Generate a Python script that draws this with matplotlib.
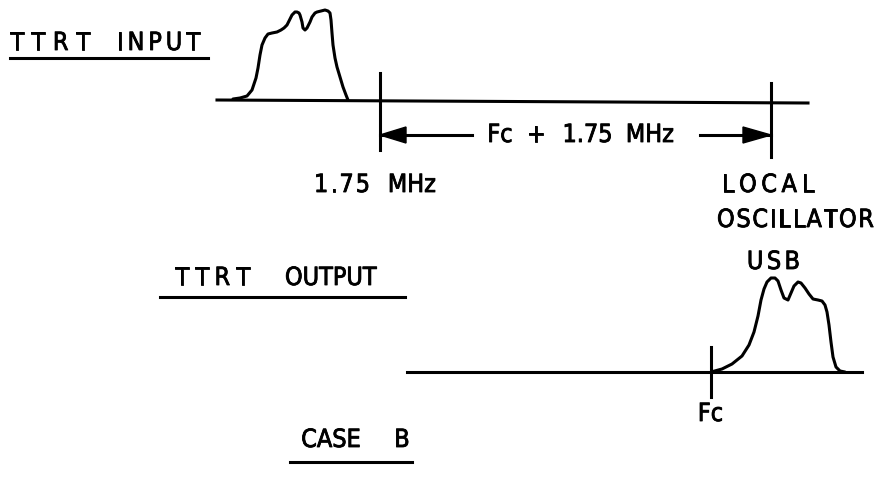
import matplotlib
matplotlib.use("Agg")
import matplotlib.pyplot as plt
import matplotlib.patheffects as pe
from matplotlib.patches import Polygon
from matplotlib.font_manager import FontProperties, fontManager
from matplotlib.textpath import TextToPath

# spectrum outlines, in drawing units (x = frequency, y = down the page)
input_x = [233, 240, 247, 252, 256, 258, 260, 262, 265, 268, 272, 277, 281, 284, 287,
           290, 292, 295, 297, 299, 300, 302, 303, 305, 307, 310, 312, 315, 317, 321, 325,
           328, 330, 331, 332, 333, 335, 337, 340, 343, 346, 348]
input_y = [99, 98, 96, 90, 78, 68, 55, 45, 38, 34, 33, 32, 30, 28, 25,
           19, 15, 12, 12, 13, 15, 22, 28, 30, 28, 22, 17, 13, 12, 11, 10,
           11, 13, 20, 33, 45, 58, 67, 77, 87, 95, 100]

output_x = [711, 722, 732, 742, 749, 754, 758, 761, 764, 767, 771, 775, 778, 781,
            784, 788, 791, 794, 798, 801, 805, 809, 813, 818, 822, 825, 827, 829,
            831, 833, 836, 840, 845]
output_y = [372, 369, 364, 356, 345, 332, 316, 300, 289, 282, 278, 278, 281, 290,
            298, 300, 293, 286, 282, 283, 288, 294, 299, 300, 301, 305, 312, 325,
            342, 357, 367, 371, 372]

# horizontal axes (x0, y0, x1, y1)
baselines = [(217, 100, 808, 103), (407, 372, 862, 372)]
# marker lines (x, top, bottom)
marks = [(380, 73, 150), (771, 83, 157), (711, 347, 397)]

# letter-spaced words: text, left, right, vertical centre
words = [
    ("TTRT", 10, 90, 43), ("INPUT", 117, 200, 43),
    ("Fc", 488, 512, 135), ("+", 526, 546, 135), ("1.75", 562, 613, 135),
    ("1.75", 314, 370, 185),
    ("LOCAL", 722, 814, 185), ("OSCILLATOR", 717, 874, 220),
    ("USB", 747, 800, 262),
    ("TTRT", 175, 250, 278), ("OUTPUT", 284, 378, 278),
    ("Fc", 699, 722, 414),
    ("CASE", 300, 362, 440), ("B", 394, 410, 440),
]
# words kept at natural spacing: text, centre x, centre y
plain_words = [("MHz", 650, 135), ("MHz", 412, 185)]

# underlines (x0, x1, y)
underlines = [(10, 208, 58), (160, 405, 297), (290, 412, 462)]

fig = plt.figure(figsize=(8.76, 4.93), dpi=100)
ax = fig.add_axes([0, 0, 1, 1])
ax.set_xlim(0, 876)
ax.set_ylim(493, 0)
ax.axis("off")

lw = 2.2
ink = "black"
has_condensed = any(f.name == "DejaVu Sans" and f.stretch == "condensed"
                    for f in fontManager.ttflist)
if has_condensed:
    prop = FontProperties(family="DejaVu Sans", stretch="condensed", size=18)
else:
    prop = FontProperties(family="DejaVu Sans", size=17)
ttp = TextToPath()
px = 100 / 72.0
thick = [pe.withStroke(linewidth=0.6, foreground=ink)]


def spaced_text(s, left, right, y):
    """Letter-spaced text filling the span left..right."""
    widths = []
    for ch in s:
        w, h, d = ttp.get_text_width_height_descent(ch, prop, ismath=False)
        widths.append(w * px)
    gap = (right - left - sum(widths)) / max(len(s) - 1, 1)
    if gap < 1.5:
        ax.text((left + right) / 2, y, s, ha="center", va="center", fontproperties=prop,
                color=ink, path_effects=thick)
        return
    x = left
    for ch, w in zip(s, widths):
        ax.text(x + w / 2, y, ch, ha="center", va="center", fontproperties=prop,
                color=ink, path_effects=thick)
        x += w + gap


for x0, y0, x1, y1 in baselines:
    ax.plot([x0, x1], [y0, y1], color=ink, lw=lw)

ax.plot(input_x, input_y, color=ink, lw=lw, solid_joinstyle="round", solid_capstyle="round")
ax.plot(output_x, output_y, color=ink, lw=lw, solid_joinstyle="round", solid_capstyle="round")

for x, y0, y1 in marks:
    ax.plot([x, x], [y0, y1], color=ink, lw=lw)

for x0, x1, y in underlines:
    ax.plot([x0, x1], [y, y], color=ink, lw=lw)

# dimension arrow between the two marks
ay = 135
left_mark, right_mark = marks[0][0], marks[1][0]
ax.plot([left_mark, 472], [ay, ay], color=ink, lw=lw)
ax.plot([700, right_mark], [ay, ay], color=ink, lw=lw)
ax.add_patch(Polygon([[left_mark, ay], [left_mark + 26, ay - 8], [left_mark + 26, ay + 8]],
                     closed=True, color=ink))
ax.add_patch(Polygon([[right_mark, ay], [right_mark - 28, ay - 8], [right_mark - 28, ay + 8]],
                     closed=True, color=ink))

for txt, x0, x1, y in words:
    spaced_text(txt, x0, x1, y)
for txt, x, y in plain_words:
    ax.text(x, y, txt, ha="center", va="center", fontproperties=prop, color=ink,
            path_effects=thick)

fig.savefig("out.png", dpi=100)
